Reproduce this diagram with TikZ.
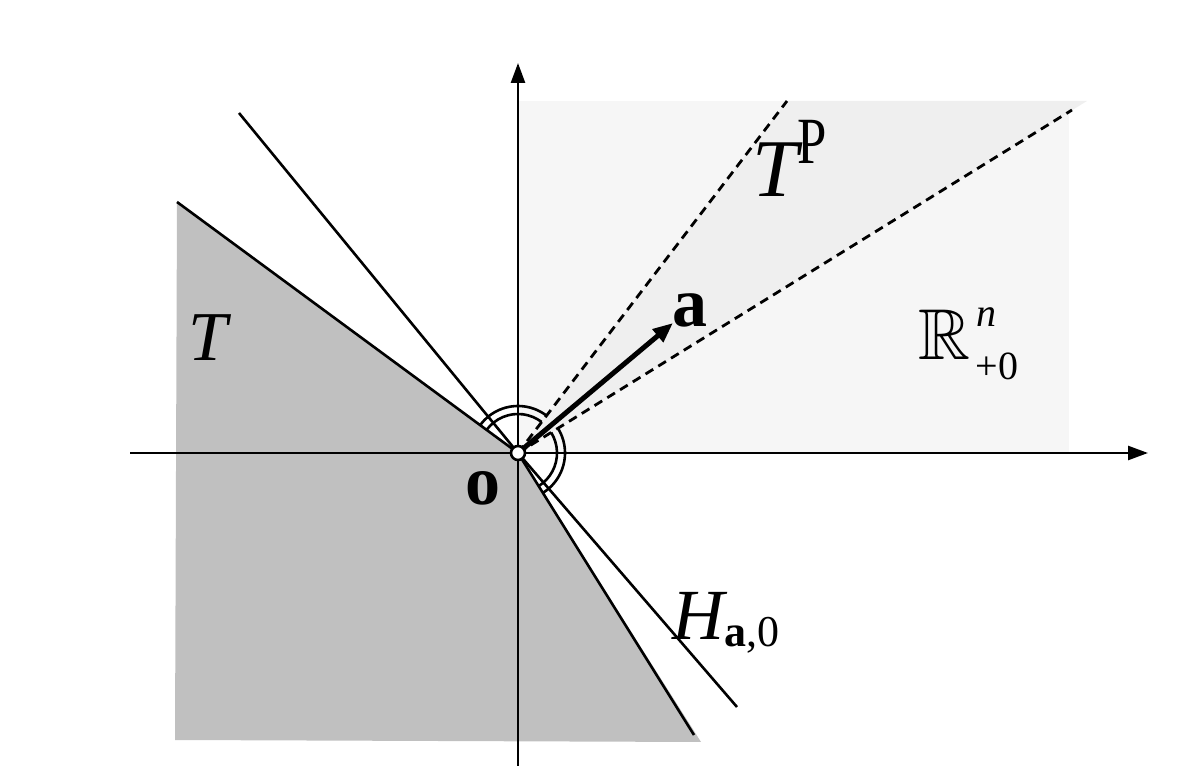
\documentclass[tikz,border=0pt]{standalone}
\usepackage{fontspec}
\setmainfont{Liberation Serif}
\usepackage{amssymb}
\usetikzlibrary{arrows.meta}
\definecolor{tgray}{RGB}{192,192,192}
\definecolor{conegray}{RGB}{239,239,239}
\definecolor{quadgray}{RGB}{246,246,246}
\begin{document}
\begin{tikzpicture}[x=0.5pt,y=-0.5pt,
  axisline/.style={line width=1.3pt,-{Triangle[length=10pt,width=7pt]}},
  edgeline/.style={line width=1.3pt},
  dashline/.style={line width=1.4pt,dash pattern=on 4.5pt off 3pt},
  arcline/.style={line width=1.3pt},
  vecline/.style={line width=2.5pt,-{Triangle[length=10pt,width=8pt]}},
  lbl/.style={inner sep=0pt,anchor=base}]
\useasboundingbox (0,0) rectangle (1200,769);
\coordinate (O) at (518,453);
% regions
\fill[quadgray] (518,101) rectangle (1069,453);
\coordinate (C1) at (787,101);
\coordinate (C2) at (1087,101);
\coordinate (C2e) at (1072,110);
\fill[conegray] (O) -- (C1) -- (C2) -- cycle;
\coordinate (T1) at (177,202);
\coordinate (T2) at (701,742);
\coordinate (T2e) at (694,735);
\coordinate (T3) at (175,740);
\fill[tgray] (T1) -- (O) -- (T2) -- (T3) -- cycle;
% axes
\coordinate (XL) at (130,453);
\coordinate (XR) at (1148,453);
\coordinate (YB) at (518,766);
\coordinate (YT) at (518,63);
\draw[axisline] (XL) -- (XR);
\draw[axisline] (YB) -- (YT);
% hyperplane H
\coordinate (H1) at (239,113);
\coordinate (H2) at (737,707);
\draw[edgeline] (H1) -- (O) -- (H2);
% edges of T
\draw[edgeline] (T1) -- (O) -- (T2e);
% polar cone edges
\draw[dashline] (O) -- (C1);
\draw[dashline] (O) -- (C2e);
% right-angle arcs
\draw[arcline] (O) ++(-52.7:47) arc[start angle=-52.7,end angle=-143.6,radius=47];
\draw[arcline] (O) ++(-52.7:39) arc[start angle=-52.7,end angle=-143.6,radius=39];
\draw[arcline] (O) ++(-31.8:47) arc[start angle=-31.8,end angle=58.3,radius=47];
\draw[arcline] (O) ++(-31.8:39) arc[start angle=-31.8,end angle=58.3,radius=39];
% vector a
\coordinate (A) at (673,323);
\draw[vecline] (O) -- (A);
\draw[line width=1.3pt,fill=white] (O) circle[radius=7];
% labels
\node[lbl] (labT) at (210,361) {\fontsize{35pt}{40pt}\selectfont\textit{T}};
\node[lbl] (labO) at (483,505) {\fontsize{35pt}{40pt}\selectfont\textbf{o}};
\node[lbl] (labA) at (690,327) {\fontsize{35pt}{40pt}\selectfont\textbf{a}};
\node[lbl] (labTP) at (778,197) {\fontsize{41pt}{45pt}\selectfont\textit{T}};
\node[lbl] (labP) at (812,164) {\fontsize{33pt}{36pt}\selectfont\scalebox{0.8}[1]{P}};
\node[lbl] (labR) at (944,360) {\fontsize{36pt}{40pt}\selectfont$\mathbb{R}$};
\node[lbl] (labn) at (986,327) {\fontsize{20pt}{22pt}\selectfont\textit{n}};
\node[lbl] (labp) at (997,380) {\fontsize{20pt}{22pt}\selectfont+0};
\node[lbl] (labH) at (700,640) {\fontsize{36pt}{40pt}\selectfont\textit{H}};
\node[lbl] (labHs) at (752,647) {\fontsize{22pt}{24pt}\selectfont\textbf{a},0};
\end{tikzpicture}
\end{document}
